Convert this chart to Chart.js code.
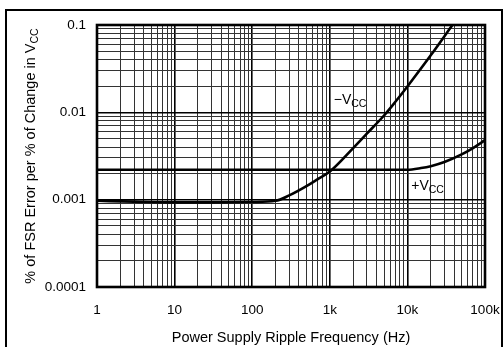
<!DOCTYPE html>
<html><head><meta charset="utf-8">
<script src="https://cdn.jsdelivr.net/npm/chart.js@4/dist/chart.umd.min.js"></script>
<style>html,body{margin:0;padding:0;background:#fff;}#wrap{width:503px;height:347px;position:relative;}</style>
</head><body><div id="wrap"><canvas id="c" width="503" height="347"></canvas></div>
<script>
// ---- data ----
const freqNeg = [1, 3, 10, 30, 100, 200, 300, 500, 700, 1000, 2000, 3000, 5000, 7000, 10000, 20000, 38000];
const valNeg  = [0.00097, 0.00095, 0.00093, 0.00093, 0.00094, 0.00097, 0.00112, 0.00143, 0.00172, 0.0021, 0.0039, 0.0057, 0.0092, 0.0132, 0.0198, 0.045, 0.1];
const freqPos = [1, 10, 100, 1000, 10000, 15000, 20000, 30000, 50000, 70000, 100000];
const valPos  = [0.0022, 0.0022, 0.0022, 0.0022, 0.0022, 0.0023, 0.00242, 0.0027, 0.0033, 0.0039, 0.0048];
const xMajor = [1, 10, 100, 1000, 10000, 100000];
const xTickLabels = ['1', '10', '100', '1k', '10k', '100k'];
const yMajor = [0.0001, 0.001, 0.01, 0.1];
const yTickLabels = ['0.0001', '0.001', '0.01', '0.1'];
const xTitle = 'Power Supply Ripple Frequency (Hz)';
const yTitleMain = '% of FSR Error per % of Change in V';
const yTitleSub = 'CC';
const seriesNames = ['\u2212V', '+V'];
const seriesSub = 'CC';

const FONT = '"Liberation Sans", Arial, Helvetica, sans-serif';

function decadeTicks(majors) {
  const t = [];
  for (let i = 0; i < majors.length; i++) {
    t.push({ value: majors[i] });
    if (i < majors.length - 1) for (let m = 2; m <= 9; m++) t.push({ value: majors[i] * m });
  }
  return t;
}
function isMajor(v) { const l = Math.log10(v); return Math.abs(l - Math.round(l)) < 1e-6; }
function labelFor(v, majors, labels) {
  for (let i = 0; i < majors.length; i++) if (Math.abs(majors[i] - v) / majors[i] < 1e-6) return labels[i];
  return '';
}

const gridOpts = {
  color: c => (c.tick && isMajor(c.tick.value)) ? '#000' : '#333',
  lineWidth: c => (c.tick && isMajor(c.tick.value)) ? 1.6 : 1,
  drawTicks: false
};

const decor = {
  id: 'decor',
  afterDraw(chart) {
    const ctx = chart.ctx, a = chart.chartArea, xs = chart.scales.x, ys = chart.scales.y;
    ctx.save();
    // plot frame
    ctx.strokeStyle = '#000'; ctx.lineWidth = 2.6;
    ctx.strokeRect(a.left, a.top, a.right - a.left, a.bottom - a.top);
    // outer figure border
    ctx.lineWidth = 2;
    ctx.beginPath();
    ctx.moveTo(6, 347); ctx.lineTo(6, 10); ctx.lineTo(502, 10); ctx.lineTo(502, 347);
    ctx.stroke();
    ctx.fillStyle = '#000';
    // series labels with subscripts
    function sublabel(txt, sub, x, y, f1, f2) {
      ctx.textAlign = 'left'; ctx.textBaseline = 'alphabetic';
      ctx.font = f1 + 'px ' + FONT;
      ctx.fillText(txt, x, y);
      const w = ctx.measureText(txt).width;
      ctx.font = f2 + 'px ' + FONT;
      ctx.fillText(sub, x + w, y + 3);
    }
    sublabel(seriesNames[0], seriesSub, xs.getPixelForValue(1125), ys.getPixelForValue(0.0125), 14, 10.5);
    sublabel(seriesNames[1], seriesSub, xs.getPixelForValue(11200), ys.getPixelForValue(0.0013), 14, 10.5);
    // y title, rotated
    ctx.translate(35, (a.top + a.bottom) / 2);
    ctx.rotate(-Math.PI / 2);
    ctx.font = '14.5px ' + FONT;
    const w1 = ctx.measureText(yTitleMain).width;
    ctx.font = '10.5px ' + FONT;
    const w2 = ctx.measureText(yTitleSub).width;
    const x0 = -(w1 + w2) / 2;
    ctx.font = '14.5px ' + FONT;
    ctx.fillText(yTitleMain, x0, 0);
    ctx.font = '10.5px ' + FONT;
    ctx.fillText(yTitleSub, x0 + w1, 3);
    ctx.restore();
  }
};

new Chart(document.getElementById('c'), {
  type: 'line',
  data: {
    datasets: [
      { label: '-VCC', data: freqNeg.map((f, i) => ({ x: f, y: valNeg[i] })), borderColor: '#000', borderWidth: 2.6, pointRadius: 0, cubicInterpolationMode: 'monotone', fill: false },
      { label: '+VCC', data: freqPos.map((f, i) => ({ x: f, y: valPos[i] })), borderColor: '#000', borderWidth: 2.6, pointRadius: 0, cubicInterpolationMode: 'monotone', fill: false }
    ]
  },
  options: {
    responsive: false, animation: false, devicePixelRatio: 1,
    layout: { padding: { left: 0, right: 18, top: 25, bottom: 0 } },
    plugins: { legend: { display: false }, tooltip: { enabled: false } },
    scales: {
      x: {
        type: 'logarithmic', min: 1, max: 100000,
        afterBuildTicks: s => { s.ticks = decadeTicks(xMajor); },
        afterFit: s => { s.height = 60; s.paddingLeft = 0; s.paddingRight = 0; },
        ticks: { autoSkip: false, maxRotation: 0, padding: 15, color: '#000', font: { family: FONT, size: 13.5 },
                 callback: v => labelFor(v, xMajor, xTickLabels) },
        grid: gridOpts, border: { display: false },
        title: { display: true, text: xTitle, color: '#000', font: { family: FONT, size: 14.5 }, padding: { top: 4, bottom: 0 } }
      },
      y: {
        type: 'logarithmic', min: 0.0001, max: 0.1,
        afterBuildTicks: s => { s.ticks = decadeTicks(yMajor); },
        afterFit: s => { s.width = 97; s.paddingTop = 0; s.paddingBottom = 0; },
        ticks: { autoSkip: false, padding: 11, color: '#000', font: { family: FONT, size: 13.5 },
                 callback: v => labelFor(v, yMajor, yTickLabels) },
        grid: gridOpts, border: { display: false }
      }
    }
  },
  plugins: [decor]
});
</script>
</body></html>
